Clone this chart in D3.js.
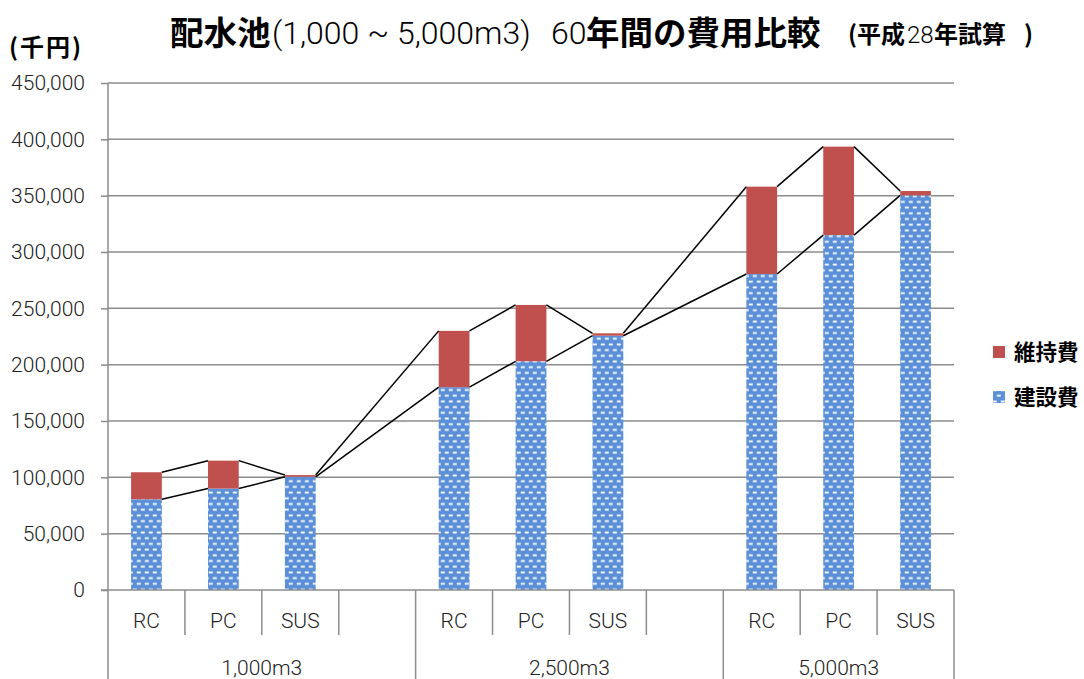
<!DOCTYPE html>
<html><head><meta charset="utf-8">
<script src="https://cdn.jsdelivr.net/npm/d3@7"></script>
<style>
body{margin:0;background:#fff;}
svg{display:block;}
.lat{font-family:Roboto,"Liberation Sans",sans-serif;font-weight:300;}
.cjk{font-family:"Noto Sans CJK JP",sans-serif;font-weight:700;}
</style>
</head><body>
<svg id="c" width="1084" height="679"></svg>
<script>
// ---- data ----
const groups = ["1,000m3", "2,500m3", "5,000m3"];
const types = ["RC", "PC", "SUS"];
const construction = [80500, 90000, 100500, 180000, 203000, 225700, 280500, 315000, 350300];
const maintenance  = [24000, 24800, 1500, 50000, 50000, 2100, 77500, 78500, 3800];
const yTicks = [0, 50000, 100000, 150000, 200000, 250000, 300000, 350000, 400000, 450000];
const seriesNames = ["維持費", "建設費"];

// slots: RC PC SUS (blank) per group, last group without blank
const slots = [];
let bi = 0;
groups.forEach((g, gi) => {
  types.forEach(t => { slots.push({group: gi, label: t, bar: bi++}); });
  if (gi < groups.length - 1) slots.push({group: gi, label: "", bar: null});
});

const svg = d3.select("#c");
const L = 108, R = 954, T = 83, B = 590;
const x = d3.scaleBand().domain(d3.range(slots.length)).range([L, R]).paddingInner(0.6).paddingOuter(0.3);
const step = x.step();
const y = d3.scaleLinear().domain([0, 450000]).range([B, T]);
const fmt = d3.format(",");

// pattern
const defs = svg.append("defs");
const pat = defs.append("pattern").attr("id", "conf").attr("patternUnits", "userSpaceOnUse")
  .attr("width", 8).attr("height", 11.4);
pat.append("rect").attr("width", 8).attr("height", 11.4).attr("fill", "#5b8fd8");
pat.append("rect").attr("x", 0.8).attr("y", 1.5).attr("width", 4).attr("height", 1.8).attr("fill", "#fff");
pat.append("rect").attr("x", 4.8).attr("y", 7.2).attr("width", 4).attr("height", 1.8).attr("fill", "#fff");
pat.append("rect").attr("x", -3.2).attr("y", 7.2).attr("width", 4).attr("height", 1.8).attr("fill", "#fff");

// gridlines
svg.append("g").selectAll("line").data(yTicks.filter(d => d > 0)).join("line")
  .attr("x1", L).attr("x2", R).attr("y1", d => y(d)).attr("y2", d => y(d))
  .attr("stroke", "#8c8c8c").attr("stroke-width", 1.5);

// y axis
const ya = svg.append("g").attr("transform", `translate(${L},0)`)
  .call(d3.axisLeft(y).tickValues(yTicks).tickFormat(fmt).tickSize(7).tickPadding(16));
ya.select(".domain").remove();
ya.selectAll(".tick line").attr("stroke", "#8c8c8c").attr("stroke-width", 1.5);
ya.selectAll("text").attr("class", "lat").attr("font-size", 21).attr("fill", "#222");

// bars
const barData = construction.map((c, i) => ({i, c, m: maintenance[i]}));
const slotOf = i => slots.findIndex(s => s.bar === i);
svg.append("g").selectAll("rect").data(barData).join("rect")
  .attr("x", d => x(slotOf(d.i))).attr("width", x.bandwidth())
  .attr("y", d => y(d.c)).attr("height", d => y(0) - y(d.c))
  .attr("fill", "url(#conf)");
svg.append("g").selectAll("rect").data(barData).join("rect")
  .attr("x", d => x(slotOf(d.i))).attr("width", x.bandwidth())
  .attr("y", d => y(d.c + d.m)).attr("height", d => y(d.c) - y(d.c + d.m))
  .attr("fill", "#c0504d");

// series lines
const lineG = svg.append("g");
[d => d.c, d => d.c + d.m].forEach(acc => {
  for (let k = 0; k < barData.length - 1; k++) {
    const a = barData[k], b = barData[k + 1];
    lineG.append("line")
      .attr("x1", x(slotOf(a.i)) + x.bandwidth()).attr("y1", y(acc(a)))
      .attr("x2", x(slotOf(b.i))).attr("y2", y(acc(b)))
      .attr("stroke", "#000").attr("stroke-width", 1.5);
  }
});

// x axis base
svg.append("line").attr("x1", L - 7).attr("x2", R).attr("y1", B).attr("y2", B)
  .attr("stroke", "#8c8c8c").attr("stroke-width", 1.5);
// left axis line
svg.append("line").attr("x1", L).attr("x2", L).attr("y1", T).attr("y2", 679)
  .attr("stroke", "#8c8c8c").attr("stroke-width", 1.5);
// separators
const sepG = svg.append("g");
slots.forEach((s, i) => {
  const xb = L + (i + 1) * step;
  const last = (i === slots.length - 1) || slots[i + 1].group !== s.group;
  sepG.append("line").attr("x1", xb).attr("x2", xb).attr("y1", B).attr("y2", last ? 679 : 635)
    .attr("stroke", "#8c8c8c").attr("stroke-width", 1.5);
});
// category labels
svg.append("g").selectAll("text").data(slots.filter(s => s.label)).join("text")
  .attr("class", "lat").attr("font-size", 21).attr("fill", "#222").attr("text-anchor", "middle")
  .attr("x", s => L + (slots.indexOf(s) + 0.5) * step).attr("y", 628)
  .text(s => s.label);
svg.append("g").selectAll("text").data(groups).join("text")
  .attr("class", "lat").attr("font-size", 21).attr("fill", "#222").attr("text-anchor", "middle")
  .attr("x", (g, gi) => {
    const idx = slots.map((s, i) => s.group === gi ? i : -1).filter(i => i >= 0);
    return L + (idx[0] + (idx[idx.length - 1] + 1)) / 2 * step;
  })
  .attr("y", 675).text(g => g);

// title
const tt = svg.append("g");
const piece = (t, xx, yy, cls, fs) => tt.append("text").attr("class", cls).attr("x", xx).attr("y", yy)
  .attr("font-size", fs).attr("fill", "#000").text(t);
piece("配水池", 170, 45, "cjk", 33.5);
piece("(1,000 ~ 5,000m3)", 272, 44, "lat", 32);
piece("60", 551, 44, "lat", 32);
piece("年間の費用比較", 586, 45, "cjk", 33.5);
piece("(平成", 848, 43, "cjk", 24);
piece("28", 907, 43, "lat", 24);
piece("年試算", 934, 43, "cjk", 24);
piece(")", 1024, 43, "cjk", 24);
piece("(千円)", 9, 56, "cjk", 24).attr("textLength", 72).attr("lengthAdjust", "spacing");

// legend
const lg = svg.append("g");
const legItems = [{name: seriesNames[0], fill: "#c0504d", yy: 352}, {name: seriesNames[1], fill: "url(#conf)", yy: 397}];
legItems.forEach(it => {
  lg.append("rect").attr("x", 993).attr("y", it.yy - 6).attr("width", 12).attr("height", 12).attr("fill", it.fill);
  lg.append("text").attr("class", "cjk").attr("font-size", 21.5).attr("x", 1014).attr("y", it.yy + 8)
    .attr("fill", "#000").text(it.name);
});
</script>
</body></html>
